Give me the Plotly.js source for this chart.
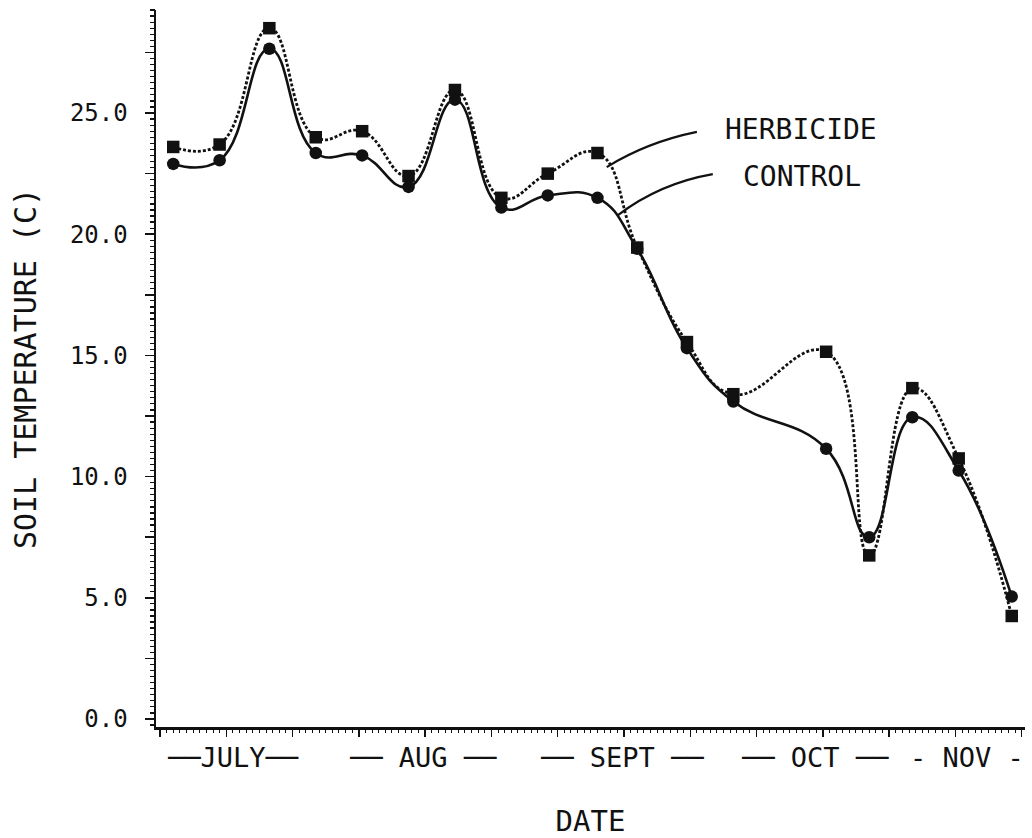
<!DOCTYPE html>
<html>
<head>
<meta charset="utf-8">
<script src="https://cdn.plot.ly/plotly-3.0.1.min.js"></script>
<style>
  html, body { margin: 0; padding: 0; background: #ffffff; }
  #chart { width: 1032px; height: 838px; }
</style>
</head>
<body>
<div id="chart"></div>
<script>
// Sampling days (days counted from the start of the season)
const sampleDays = [2, 9, 16.5, 23.5, 30.5, 37.5, 44.5, 51.5, 58.5, 66, 72, 79.5, 86.5, 100.5, 107, 113.5, 120.5, 128.5];

// Soil temperature (C)
const herbicideTemp = [23.6, 23.7, 28.5, 24.0, 24.25, 22.4, 25.95, 21.5, 22.5, 23.35, 19.45, 15.55, 13.4, 15.15, 6.75, 13.65, 10.75, 4.25];
const controlTemp   = [22.9, 23.05, 27.65, 23.35, 23.25, 21.95, 25.55, 21.1, 21.6, 21.5, 19.4, 15.3, 13.1, 11.15, 7.5, 12.45, 10.25, 5.05];

// Y tick marks every 2.5; the half-step marks carry no label
const yTickStep = 2.5;
const yFineStep = 0.25;
const yUnlabelled = ['2.5', '7.5', '12.5', '17.5', '22.5', '27.5'];

// Month labels along the date axis
const monthLabels = ['──JULY──', '── AUG ──', '── SEPT ──', '── OCT ──', '- NOV -'];
const monthDays   = [11, 39.7, 69.7, 98.8, 121.7];

// Series names
const seriesNames = ['HERBICIDE', 'CONTROL'];

const ink = '#111111';
const mono = '"DejaVu Sans Mono", "Liberation Mono", monospace';
const yRange = [-0.33, 29.25];

const traces = [
  {
    name: seriesNames[0],
    x: sampleDays,
    y: herbicideTemp,
    mode: 'lines+markers',
    line: { color: ink, width: 2.8, dash: '3px,2px', shape: 'spline', smoothing: 1.3 },
    marker: { symbol: 'square', size: 12.5, color: ink },
    showlegend: false
  },
  {
    // drawn on the twin temperature axis (same range) that carries the fine scale marks
    name: seriesNames[1],
    x: sampleDays,
    y: controlTemp,
    yaxis: 'y2',
    mode: 'lines+markers',
    line: { color: ink, width: 2.6, shape: 'spline', smoothing: 1.3 },
    marker: { symbol: 'circle', size: 12.5, color: ink },
    showlegend: false
  }
];

const annotations = monthLabels.map((t, i) => ({
  text: t,
  x: monthDays[i], xref: 'x',
  y: 0, yref: 'paper',
  xanchor: 'center', yanchor: 'middle',
  yshift: -30,
  showarrow: false,
  font: { family: mono, size: 27, color: ink }
}));

// Series labels beside the curves
annotations.push(
  { text: seriesNames[0], x: 96.7, y: 24.3, xref: 'x', yref: 'y', showarrow: false,
    xanchor: 'center', yanchor: 'middle', font: { family: mono, size: 28, color: ink } },
  { text: seriesNames[1], x: 96.8, y: 22.4, xref: 'x', yref: 'y', showarrow: false,
    xanchor: 'center', yanchor: 'middle', font: { family: mono, size: 28, color: ink } }
);

// Curved leader lines from labels to curves
const shapes = [
  { type: 'path', xref: 'x', yref: 'y', path: 'M 67.4 22.77 Q 73.5 23.8 81.0 24.22',
    line: { color: ink, width: 2.2 } },
  { type: 'path', xref: 'x', yref: 'y', path: 'M 69.1 20.79 Q 75.4 22.1 83.4 22.48',
    line: { color: ink, width: 2.2 } }
];

const yAlias = {};
yUnlabelled.forEach(k => { yAlias[k] = ' '; });

const layout = {
  width: 1032,
  height: 838,
  paper_bgcolor: '#ffffff',
  plot_bgcolor: '#ffffff',
  margin: { l: 156, r: 7, t: 10, b: 111 },
  font: { family: mono, color: ink },
  xaxis: {
    range: [-0.6, 130.5],
    showgrid: false,
    zeroline: false,
    showline: true,
    linecolor: ink,
    linewidth: 2.5,
    ticks: 'outside',
    tickmode: 'linear',
    tick0: 0,
    dtick: 10,
    ticklen: 7,
    tickwidth: 1.5,
    tickcolor: ink,
    showticklabels: false,
    minor: { ticks: 'outside', tickmode: 'linear', tick0: 0, dtick: 1, ticklen: 3, tickwidth: 1, tickcolor: ink, showgrid: false },
    title: { text: 'DATE', font: { family: mono, size: 29, color: ink }, standoff: 76 }
  },
  yaxis: {
    range: yRange,
    showgrid: false,
    zeroline: false,
    showline: true,
    linecolor: ink,
    linewidth: 2.5,
    ticks: 'outside',
    tickmode: 'linear',
    tick0: 0,
    dtick: yTickStep,
    tickformat: '.1f',
    labelalias: yAlias,
    ticklen: 9,
    tickwidth: 1.5,
    tickcolor: ink,
    ticklabelstandoff: 12,
    tickfont: { family: mono, size: 24, color: ink },
    title: { text: 'SOIL TEMPERATURE (C)', font: { family: mono, size: 30, color: ink }, standoff: 25 }
  },
  // twin temperature axis with the fine scale marks
  yaxis2: {
    overlaying: 'y',
    anchor: 'x',
    side: 'left',
    range: yRange,
    showgrid: false,
    zeroline: false,
    showline: false,
    showticklabels: false,
    ticks: 'outside',
    tickmode: 'linear',
    tick0: 0,
    dtick: yFineStep,
    ticklen: 5,
    tickwidth: 1.2,
    tickcolor: ink
  },
  annotations: annotations,
  shapes: shapes
};

Plotly.newPlot('chart', traces, layout, { displayModeBar: false, staticPlot: true });
</script>
</body>
</html>
